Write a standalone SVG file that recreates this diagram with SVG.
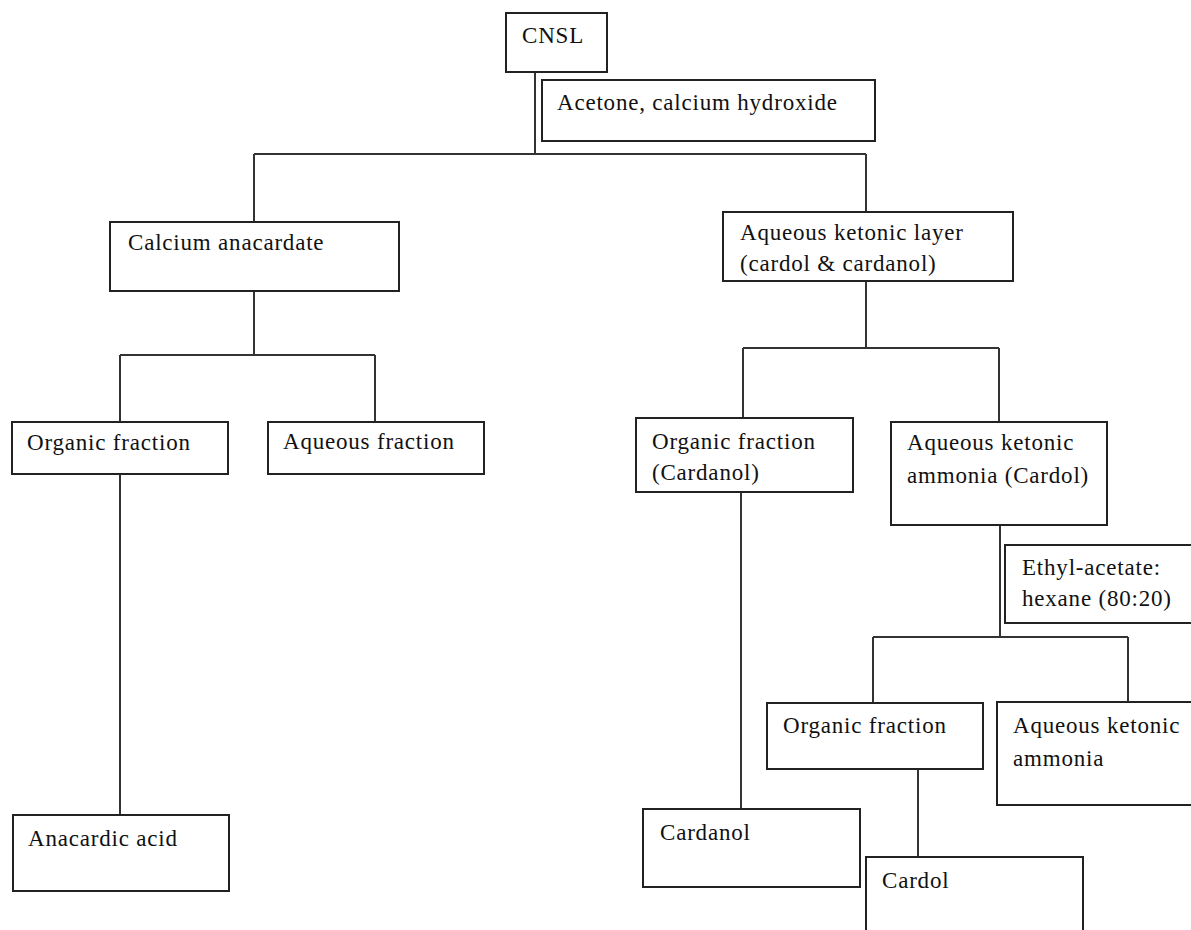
<svg xmlns="http://www.w3.org/2000/svg" width="1191" height="930" viewBox="0 0 1191 930">
<style>
.box{fill:#fff;stroke:#222;stroke-width:2}
.t{font-family:"Liberation Serif","Times New Roman",serif;font-size:23px;letter-spacing:0.8px;fill:#111}
.c{fill:none;stroke:#333;stroke-width:2}
</style>
<rect width="1191" height="930" fill="#fff"/>
<g id="connectors">
<path class="c" d="M535 72V154M254 154H866M254 154V222M866 154V212"/>
<path class="c" d="M254 291V355M120 355H375M120 355V422M375 355V422M120 474V815"/>
<path class="c" d="M866 281V348M743 348H999M743 348V418M999 348V422"/>
<path class="c" d="M741 492V809M1000 525V638M873 637H1128M873 637V703M1128 637V702M918 769V857"/>
</g>
<g id="cnsl"><rect class="box" x="506" y="13" width="101" height="59"/><text class="t" x="522" y="43">CNSL</text></g>
<g id="acetone"><rect class="box" x="542" y="80" width="333" height="61"/><text class="t" x="557" y="110">Acetone, calcium hydroxide</text></g>
<g id="calcium"><rect class="box" x="110" y="222" width="289" height="69"/><text class="t" x="128" y="250">Calcium anacardate</text></g>
<g id="aqketlayer"><rect class="box" x="723" y="212" width="290" height="69"/><text class="t" x="740" y="240">Aqueous ketonic layer</text><text class="t" x="740" y="271">(cardol &amp; cardanol)</text></g>
<g id="org1"><rect class="box" x="12" y="422" width="216" height="52"/><text class="t" x="27" y="450">Organic fraction</text></g>
<g id="aqfrac"><rect class="box" x="268" y="422" width="216" height="52"/><text class="t" x="283" y="449">Aqueous fraction</text></g>
<g id="anacardic"><rect class="box" x="13" y="815" width="216" height="76"/><text class="t" x="28" y="846">Anacardic acid</text></g>
<g id="org2"><rect class="box" x="636" y="418" width="217" height="74"/><text class="t" x="652" y="449">Organic fraction</text><text class="t" x="652" y="480">(Cardanol)</text></g>
<g id="aqketamm1"><rect class="box" x="891" y="422" width="216" height="103"/><text class="t" x="907" y="450">Aqueous ketonic</text><text class="t" x="907" y="483">ammonia (Cardol)</text></g>
<g id="ethyl"><rect class="box" x="1005" y="545" width="190" height="78"/><text class="t" x="1022" y="575">Ethyl-acetate:</text><text class="t" x="1022" y="606">hexane (80:20)</text></g>
<g id="org3"><rect class="box" x="767" y="703" width="216" height="66"/><text class="t" x="783" y="733">Organic fraction</text></g>
<g id="aqketamm2"><rect class="box" x="997" y="702" width="198" height="103"/><text class="t" x="1013" y="733">Aqueous ketonic</text><text class="t" x="1013" y="766">ammonia</text></g>
<g id="cardanol"><rect class="box" x="643" y="809" width="217" height="78"/><text class="t" x="660" y="840">Cardanol</text></g>
<g id="cardol"><rect class="box" x="866" y="857" width="217" height="80"/><text class="t" x="882" y="888">Cardol</text></g>
</svg>
